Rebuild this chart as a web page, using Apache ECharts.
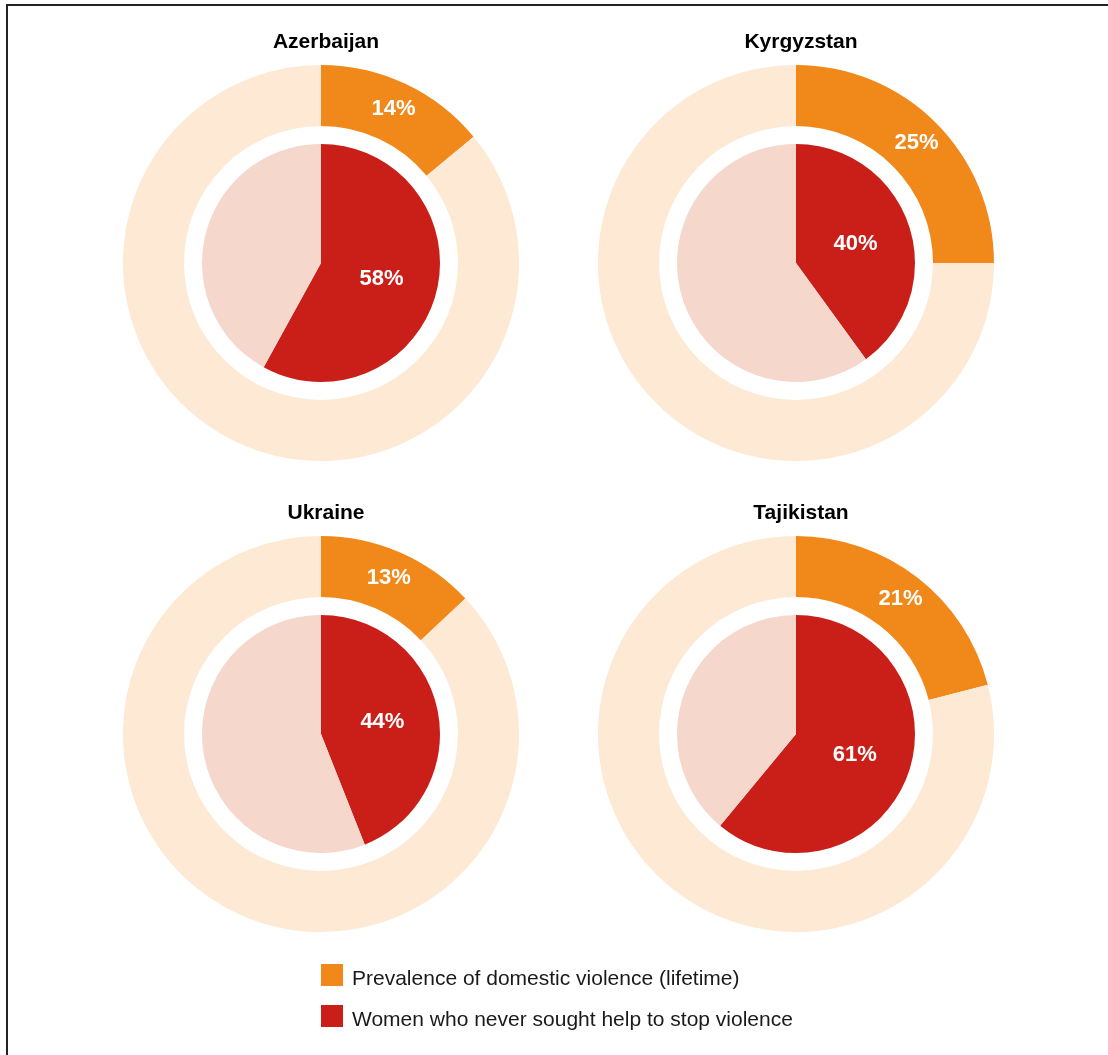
<!DOCTYPE html>
<html>
<head>
<meta charset="utf-8">
<script src="https://cdn.jsdelivr.net/npm/echarts@6/dist/echarts.min.js"></script>
<style>
  html, body { margin: 0; padding: 0; background: #fff; }
  #main { width: 1108px; height: 1055px; }
</style>
</head>
<body>
<div id="main"></div>
<script>
// data
const countries = ['Azerbaijan', 'Kyrgyzstan', 'Ukraine', 'Tajikistan'];
const prevalence = [14, 25, 13, 21];     // outer ring, %
const neverSought = [58, 40, 44, 61];    // inner pie, %
const legendNames = [
  'Prevalence of domestic violence (lifetime)',
  'Women who never sought help to stop violence'
];

const centers = [[321, 263], [796, 263], [321, 734], [796, 734]];
const FONT = '"Liberation Sans", Arial, Helvetica, sans-serif';

const myChart = echarts.init(document.getElementById('main'));

const pctLabel = {
  show: true,
  position: 'inside',
  formatter: '{c}%',
  color: '#fff',
  fontSize: 22,
  fontWeight: 'bold',
  fontFamily: FONT
};

let titles = [];
let series = [];
countries.forEach((name, i) => {
  const c = centers[i];
  titles.push({
    text: name,
    left: c[0],
    top: c[1] - 236,
    textAlign: 'center',
    textStyle: { fontSize: 21, fontWeight: 'bold', color: '#000', fontFamily: FONT }
  });
  // outer ring
  series.push({
    type: 'pie',
    center: c,
    radius: [137, 198],
    startAngle: 90,
    silent: true,
    avoidLabelOverlap: false,
    labelLine: { show: false },
    data: [
      { name: legendNames[0], value: prevalence[i], itemStyle: { color: '#F0891A' }, label: pctLabel },
      { name: 'rest-outer', value: 100 - prevalence[i], itemStyle: { color: '#FDE9D4' }, label: { show: false } }
    ]
  });
  // inner pie
  series.push({
    type: 'pie',
    center: c,
    radius: [0, 119],
    startAngle: 90,
    silent: true,
    avoidLabelOverlap: false,
    labelLine: { show: false },
    data: [
      { name: legendNames[1], value: neverSought[i], itemStyle: { color: '#C91F18' }, label: pctLabel },
      { name: 'rest-inner', value: 100 - neverSought[i], itemStyle: { color: '#F5D7CB' }, label: { show: false } }
    ]
  });
});

myChart.setOption({
  animation: false,
  backgroundColor: '#fff',
  title: titles,
  legend: {
    data: legendNames,
    orient: 'vertical',
    left: 321,
    top: 964,
    padding: 0,
    icon: 'rect',
    itemWidth: 22,
    itemHeight: 22,
    itemGap: 15,
    selectedMode: false,
    formatter: '{t|{name}}',
    textStyle: {
      rich: {
        t: { fontSize: 21, color: '#1a1a1a', fontFamily: FONT, padding: [9, 0, 0, 4] }
      }
    }
  },
  // frame around the figure (open on the right and bottom edges)
  graphic: [{
    type: 'rect',
    silent: true,
    shape: { x: 7, y: 5, width: 1200, height: 1200 },
    style: { fill: 'none', stroke: '#222', lineWidth: 2 }
  }],
  series: series
});
</script>
</body>
</html>
